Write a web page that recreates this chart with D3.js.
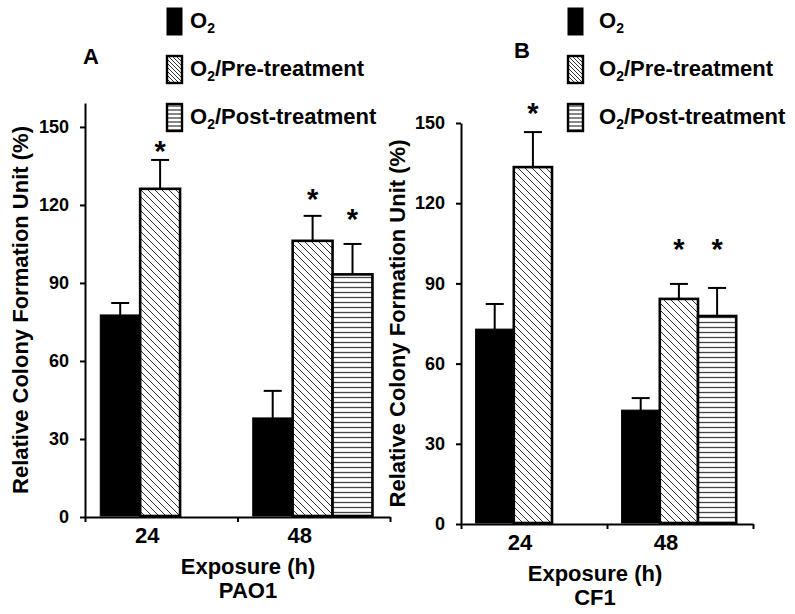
<!DOCTYPE html>
<head>
<meta charset="utf-8">
<style>
  body { margin:0; background:#fff; }
  svg { display:block; }
  text { font-family: "Liberation Sans", Arial, sans-serif; font-weight: bold; fill:#000; }
  .axis path, .axis line { stroke:#000; stroke-width:2px; }
</style>
<script src="https://d3js.org/d3.v7.min.js"></script>
</head>
<body>
<script>

var width = 795;
var height = 614;

var exposures = ["24", "48"];
var seriesKeys = ["o2", "pre", "post"];
var yTicks = [0, 30, 60, 90, 120, 150];

// PAO1 (panel A) - mean and upper error
var pao1_o2 = [77.7, 38.1];
var pao1_o2_err = [4.6, 10.4];
var pao1_pre = [126.2, 106.2];
var pao1_pre_err = [11.1, 9.6];
var pao1_post = [null, 93.3];
var pao1_post_err = [null, 11.7];
var pao1_star_pre = [143, 124.6];   // asterisk level (y units)
var pao1_star_post = [null, 117];

// CF1 (panel B)
var cf1_o2 = [72.9, 42.6];
var cf1_o2_err = [9.4, 4.5];
var cf1_pre = [133.5, 84.2];
var cf1_pre_err = [13.1, 5.6];
var cf1_post = [null, 77.8];
var cf1_post_err = [null, 10.5];
var cf1_star_pre = [156, 105];
var cf1_star_post = [null, 105];

function rows(o2, o2e, pre, pree, post, poste, spre, spost) {
  var out = [];
  exposures.forEach(function(e, i) {
    out.push({exp:e, key:"o2", v:o2[i], err:o2e[i], star:null});
    out.push({exp:e, key:"pre", v:pre[i], err:pree[i], star:spre[i]});
    out.push({exp:e, key:"post", v:post[i], err:poste[i], star:spost[i]});
  });
  return out.filter(function(d) { return d.v != null; });
}

var svg = d3.select("body").append("svg")
    .attr("width", width)
    .attr("height", height);

var defs = svg.append("defs");
function diag(id, s) {
  var p = defs.append("pattern").attr("id", id)
      .attr("patternUnits", "userSpaceOnUse").attr("width", s).attr("height", s);
  p.append("rect").attr("width", s).attr("height", s).attr("fill", "#fff");
  p.append("path")
      .attr("d", "M0,0L" + s + "," + s + "M" + (-s/2) + "," + (s/2) + "L" + (s/2) + "," + (s*1.5) + "M" + (s/2) + "," + (-s/2) + "L" + (s*1.5) + "," + (s/2))
      .attr("stroke", "#333").attr("stroke-width", 1);
}
function horiz(id, s) {
  var p = defs.append("pattern").attr("id", id)
      .attr("patternUnits", "userSpaceOnUse").attr("width", 10).attr("height", s);
  p.append("rect").attr("width", 10).attr("height", s).attr("fill", "#fff");
  p.append("line").attr("x1", 0).attr("x2", 10).attr("y1", s/2).attr("y2", s/2)
      .attr("stroke", "#444").attr("stroke-width", 1.3);
}
diag("diag", 7);
horiz("horiz", 5);
diag("diagS", 4);
horiz("horizS", 4);

var fills = {o2:"#000", pre:"url(#diag)", post:"url(#horiz)"};
var legendFills = {o2:"#000", pre:"url(#diagS)", post:"url(#horizS)"};
var legendLabels = {o2:"", pre:"/Pre-treatment", post:"/Post-treatment"};

var panels = [
  {data: rows(pao1_o2, pao1_o2_err, pao1_pre, pao1_pre_err, pao1_post, pao1_post_err, pao1_star_pre, pao1_star_post),
   x0:85, x1:390, y0:517, yTop:103, yMax:159.2,
   letter:"A", letterX:83, letterY:64, titleX:28, strain:"PAO1", labelX:248,
   legendX:167, legendTextX:190, lblDy:26},
  {data: rows(cf1_o2, cf1_o2_err, cf1_pre, cf1_pre_err, cf1_post, cf1_post_err, cf1_star_pre, cf1_star_post),
   x0:461, x1:753, y0:524, yTop:123, yMax:150,
   letter:"B", letterX:514, letterY:58, titleX:405, strain:"CF1", labelX:595,
   legendX:568, legendTextX:599, lblDy:26}
];

panels.forEach(function(p) {
  var g = svg.append("g");

  var y = d3.scaleLinear().domain([0, p.yMax]).range([p.y0, p.yTop]);
  var x = d3.scaleBand().domain(exposures).range([p.x0, p.x1]);
  var bw = x.bandwidth();
  var x1 = d3.scaleBand().domain(seriesKeys).range([bw * 0.1, bw * 0.885]);
  var edges = d3.scaleLinear().domain([0, exposures.length]).range([p.x0, p.x1]);

  // bars
  g.selectAll("rect.bar").data(p.data).enter().append("rect")
      .attr("class", "bar")
      .attr("x", function(d) { return x(d.exp) + x1(d.key); })
      .attr("y", function(d) { return y(d.v); })
      .attr("width", x1.bandwidth())
      .attr("height", function(d) { return y(0) - y(d.v) - 1; })
      .attr("fill", function(d) { return fills[d.key]; })
      .attr("stroke", "#000")
      .attr("stroke-width", function(d) { return d.key == "o2" ? 1 : 2.6; });

  // error bars (upper only)
  var eb = g.selectAll("g.err").data(p.data).enter().append("g")
      .attr("transform", function(d) { return "translate(" + (x(d.exp) + x1(d.key) + x1.bandwidth()/2) + ",0)"; });
  eb.append("line")
      .attr("y1", function(d) { return y(d.v); })
      .attr("y2", function(d) { return y(d.v + d.err); })
      .attr("stroke", "#000").attr("stroke-width", 2);
  eb.append("line")
      .attr("x1", -9).attr("x2", 9)
      .attr("y1", function(d) { return y(d.v + d.err); })
      .attr("y2", function(d) { return y(d.v + d.err); })
      .attr("stroke", "#000").attr("stroke-width", 2);

  // asterisks
  g.selectAll("text.star").data(p.data.filter(function(d) { return d.star != null; }))
    .enter().append("text")
      .attr("x", function(d) { return x(d.exp) + x1(d.key) + x1.bandwidth()/2; })
      .attr("y", function(d) { return y(d.star) + 16; })
      .attr("text-anchor", "middle")
      .style("font-size", "29px")
      .text("*");

  // axes
  g.append("g").attr("class", "axis")
      .attr("transform", "translate(" + p.x0 + ",0)")
      .call(d3.axisLeft(y).tickValues(yTicks).tickSize(5).tickPadding(11).tickSizeOuter(0))
      .call(function(a) { a.selectAll("text").style("font-size", "18px").style("font-family", "Liberation Sans, Arial, sans-serif").style("font-weight", "bold"); });

  g.append("g").attr("class", "axis")
      .attr("transform", "translate(0," + p.y0 + ")")
      .call(d3.axisBottom(edges).ticks(exposures.length).tickFormat("").tickSize(5).tickSizeOuter(0))
      .select(".domain").attr("stroke-width", 2.5);

  g.selectAll("text.xlab").data(exposures).enter().append("text")
      .attr("x", function(d) { return x(d) + bw/2 - 14; })
      .attr("y", p.y0 + p.lblDy)
      .attr("text-anchor", "middle")
      .style("font-size", "22px")
      .text(function(d) { return d; });

  g.append("text").attr("x", p.labelX).attr("y", p.y0 + 57)
      .attr("text-anchor", "middle").style("font-size", "22px").text("Exposure (h)");
  g.append("text").attr("x", p.labelX).attr("y", p.y0 + 81)
      .attr("text-anchor", "middle").style("font-size", "22px").text(p.strain);

  g.append("text")
      .attr("transform", "translate(" + p.titleX + "," + ((p.y0 + p.yTop) / 2) + ") rotate(-90)")
      .attr("text-anchor", "middle")
      .style("font-size", "22px")
      .text("Relative Colony Formation Unit (%)");

  g.append("text").attr("x", p.letterX).attr("y", p.letterY)
      .style("font-size", "22px").text(p.letter);

  // legend
  var lg = g.selectAll("g.leg").data(seriesKeys).enter().append("g")
      .attr("transform", function(d, i) { return "translate(0," + (i * 48) + ")"; });
  lg.append("rect")
      .attr("x", p.legendX).attr("y", 8)
      .attr("width", 15).attr("height", 27)
      .attr("fill", function(d) { return legendFills[d]; })
      .attr("stroke", "#000")
      .attr("stroke-width", function(d) { return d == "o2" ? 1 : 2.4; });
  var lt = lg.append("text")
      .attr("x", p.legendTextX).attr("y", 28)
      .style("font-size", "22px");
  lt.append("tspan").text("O");
  lt.append("tspan").attr("dy", 5).style("font-size", "14px").text("2");
  lt.append("tspan").attr("dy", -5).text(function(d) { return legendLabels[d]; });
});

</script>
</body>
